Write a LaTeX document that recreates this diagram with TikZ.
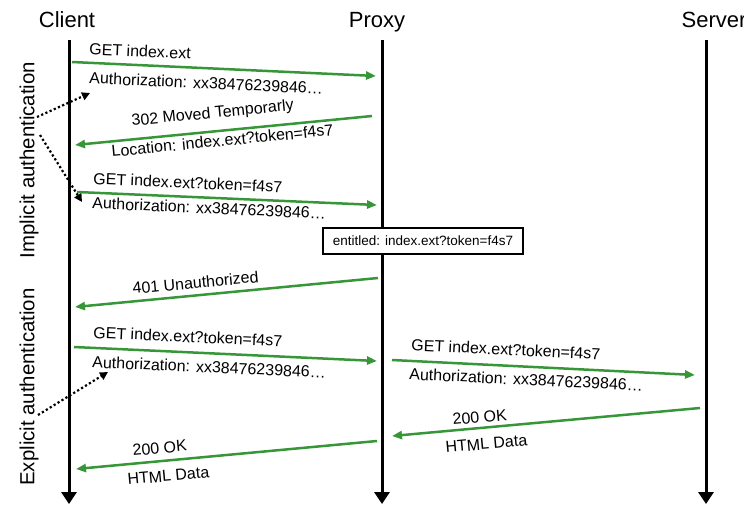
\documentclass[tikz,border=0pt]{standalone}
\usepackage{fontspec}
\setmainfont{Liberation Sans}
\usetikzlibrary{arrows.meta}
\definecolor{msg}{RGB}{55,150,55}
\begin{document}
\begin{tikzpicture}[x=1pt,y=-1pt,
  title/.style={font=\fontsize{22}{26}\selectfont, anchor=base, inner sep=0},
  life/.style={line width=3pt, -{Triangle[length=12pt,width=15pt]}},
  msgarrow/.style={draw=msg, line width=2.5pt, -{Triangle[length=10pt,width=8pt]}},
  lbl/.style={font=\fontsize{16}{19}\selectfont, anchor=base west, inner sep=0},
  side/.style={font=\fontsize{20.4}{24}\selectfont, rotate=90, inner sep=0},
  hint/.style={line width=2.2pt, dash pattern=on 2.2pt off 2.4pt, -{Triangle[length=8pt,width=8pt]}},
  entbox/.style={draw, line width=1.5pt, fill=white, minimum width=200pt, minimum height=26pt, inner sep=0, font=\fontsize{13.5}{16}\selectfont},
]
\useasboundingbox (0,0) rectangle (744,504);

% titles
\node[title] (client) at (67,27) {Client};
\node[title] (proxy) at (377,27) {Proxy};
\node[title] (server) at (714,27) {Server};

% lifelines
\coordinate (ct) at (69,40);  \coordinate (cb) at (69,504);
\coordinate (pt) at (382,40); \coordinate (pb) at (382,504);
\coordinate (st) at (706,40); \coordinate (sb) at (706,504);
\draw[life] (ct) -- (cb);
\draw[life] (pt) -- (pb);
\draw[life] (st) -- (sb);

% entitled box
\node[entbox] (ent) at (423,241) {entitled: index.ext?token=f4s7};

% message endpoints
\coordinate (a1s) at (72,62);   \coordinate (a1e) at (376,76);
\coordinate (a2s) at (372,116); \coordinate (a2e) at (75,145);
\coordinate (a3s) at (77,192);  \coordinate (a3e) at (377,205);
\coordinate (a4s) at (378,278); \coordinate (a4e) at (75,307);
\coordinate (a5s) at (74,347);  \coordinate (a5e) at (377,361);
\coordinate (a6s) at (392,360); \coordinate (a6e) at (695,375);
\coordinate (a7s) at (700,408); \coordinate (a7e) at (392,436);
\coordinate (a8s) at (377,441); \coordinate (a8e) at (76,469);

\draw[msgarrow] (a1s) -- (a1e);
\draw[msgarrow] (a2s) -- (a2e);
\draw[msgarrow] (a3s) -- (a3e);
\draw[msgarrow] (a4s) -- (a4e);
\draw[msgarrow] (a5s) -- (a5e);
\draw[msgarrow] (a6s) -- (a6e);
\draw[msgarrow] (a7s) -- (a7e);
\draw[msgarrow] (a8s) -- (a8e);

% labels
\node[lbl, rotate=-2.6] (l1a) at (89,54.5) {GET index.ext};
\node[lbl, rotate=-2.6] (l1b) at (89,83.5) {Authorization: xx38476239846\ldots};
\node[lbl, rotate=5.6] (l2a) at (132,126) {302 Moved Temporarly};
\node[lbl, rotate=5.6] (l2b) at (112,157) {Location: index.ext?token=f4s7};
\node[lbl, rotate=-2.6] (l3a) at (93,184) {GET index.ext?token=f4s7};
\node[lbl, rotate=-2.6] (l3b) at (92,208.5) {Authorization: xx38476239846\ldots};
\node[lbl, rotate=5.3] (l4a) at (133,294) {401 Unauthorized};
\node[lbl, rotate=-2.6] (l5a) at (93,338) {GET index.ext?token=f4s7};
\node[lbl, rotate=-2.6] (l5b) at (92,367.5) {Authorization: xx38476239846\ldots};
\node[lbl, rotate=-2.8] (l6a) at (411,350.5) {GET index.ext?token=f4s7};
\node[lbl, rotate=-2.8] (l6b) at (409,379.5) {Authorization: xx38476239846\ldots};
\node[lbl, rotate=5.2] (l7a) at (453,425) {200 OK};
\node[lbl, rotate=5.2] (l7b) at (446,453) {HTML Data};
\node[lbl, rotate=5.3] (l8a) at (133,456) {200 OK};
\node[lbl, rotate=5.3] (l8b) at (128,485) {HTML Data};

% side labels
\node[side] (impl) at (29,160) {Implicit authentication};
\node[side] (expl) at (29,387) {Explicit authentication};

% hint arrows
\coordinate (d1s) at (37,117);  \coordinate (d1e) at (90,93);
\coordinate (d2s) at (40,135);  \coordinate (d2e) at (82,202);
\coordinate (d3s) at (38,415);  \coordinate (d3e) at (108,372);
\draw[hint] (d1s) -- (d1e);
\draw[hint] (d2s) -- (d2e);
\draw[hint] (d3s) -- (d3e);
\end{tikzpicture}
\end{document}
